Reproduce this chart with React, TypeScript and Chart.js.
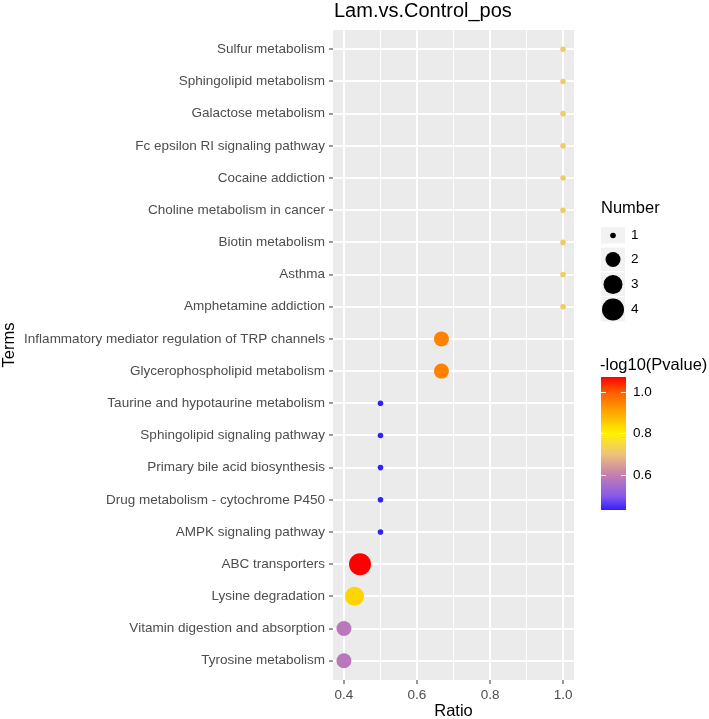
import React, { useEffect, useRef } from 'react';
import { Chart, registerables } from 'chart.js';
Chart.register(...registerables);

const terms = [
  'Sulfur metabolism',
  'Sphingolipid metabolism',
  'Galactose metabolism',
  'Fc epsilon RI signaling pathway',
  'Cocaine addiction',
  'Choline metabolism in cancer',
  'Biotin metabolism',
  'Asthma',
  'Amphetamine addiction',
  'Inflammatory mediator regulation of TRP channels',
  'Glycerophospholipid metabolism',
  'Taurine and hypotaurine metabolism',
  'Sphingolipid signaling pathway',
  'Primary bile acid biosynthesis',
  'Drug metabolism - cytochrome P450',
  'AMPK signaling pathway',
  'ABC transporters',
  'Lysine degradation',
  'Vitamin digestion and absorption',
  'Tyrosine metabolism',
];
const ratios = [1, 1, 1, 1, 1, 1, 1, 1, 1, 0.667, 0.667, 0.5, 0.5, 0.5, 0.5, 0.5, 0.444, 0.429, 0.4, 0.4];
const numbers = [1, 1, 1, 1, 1, 1, 1, 1, 1, 2, 2, 1, 1, 1, 1, 1, 4, 3, 2, 2];
const negLogP = [0.72, 0.72, 0.72, 0.72, 0.72, 0.72, 0.72, 0.72, 0.72, 0.95, 0.95, 0.431, 0.431, 0.431, 0.431, 0.431, 1.072, 0.84, 0.58, 0.58];

const xMajorTicks = [0.4, 0.6, 0.8, 1.0];
const xMinorTicks = [0.5, 0.7, 0.9];
const sizeLegendValues = [1, 2, 3, 4];
const colorLegendTicks = [0.6, 0.8, 1.0];

const titleText = 'Lam.vs.Control_pos';
const xTitle = 'Ratio';
const yTitle = 'Terms';
const sizeTitle = 'Number';
const colorTitle = '-log10(Pvalue)';

// styles
const radiusByNumber: Record<number, number> = { 1: 2.8, 2: 7.5, 3: 9.5, 4: 11 };
const gradValues = [0.431, 0.5, 0.6, 0.7, 0.8, 0.9, 1.0, 1.072];
const gradColors = ['#3320ff', '#8a5ae8', '#c47fb0', '#eec27a', '#fff200', '#ffa800', '#ff5a00', '#ff0000'];
const FONT = '"Liberation Sans", Arial, Helvetica, sans-serif';
const TICK_SIZE = 13.5;

function hexToRgb(h: string) {
  const n = parseInt(h.slice(1), 16);
  return [(n >> 16) & 255, (n >> 8) & 255, n & 255];
}
function colorFor(v: number) {
  if (v <= gradValues[0]) return gradColors[0];
  for (let i = 1; i < gradValues.length; i++) {
    if (v <= gradValues[i]) {
      const t = (v - gradValues[i - 1]) / (gradValues[i] - gradValues[i - 1]);
      const a = hexToRgb(gradColors[i - 1]);
      const b = hexToRgb(gradColors[i]);
      const c = a.map((x, k) => Math.round(x + (b[k] - x) * t));
      return `rgb(${c[0]},${c[1]},${c[2]})`;
    }
  }
  return gradColors[gradColors.length - 1];
}

const decorPlugin = {
  id: 'decor',
  beforeDraw(chart: any) {
    const { ctx, chartArea } = chart;
    ctx.save();
    ctx.fillStyle = '#ffffff';
    ctx.fillRect(0, 0, chart.width, chart.height);
    ctx.fillStyle = '#ebebeb';
    ctx.fillRect(chartArea.left, chartArea.top, chartArea.right - chartArea.left, chartArea.bottom - chartArea.top);
    ctx.restore();
  },
  afterDraw(chart: any) {
    const { ctx, chartArea } = chart;
    ctx.save();
    ctx.fillStyle = '#000000';
    // title
    ctx.font = `20px ${FONT}`;
    ctx.textAlign = 'left';
    ctx.textBaseline = 'alphabetic';
    ctx.fillText(titleText, chartArea.left + 1, 17);
    // x title
    ctx.font = `16.5px ${FONT}`;
    ctx.textAlign = 'center';
    ctx.fillText(xTitle, (chartArea.left + chartArea.right) / 2, 716);
    // y title
    ctx.save();
    ctx.translate(14, 345);
    ctx.rotate(-Math.PI / 2);
    ctx.textAlign = 'center';
    ctx.fillText(yTitle, 0, 0);
    ctx.restore();

    // size legend
    const lx = 601;
    ctx.textAlign = 'left';
    ctx.font = `16.5px ${FONT}`;
    ctx.fillText(sizeTitle, lx, 213);
    const centers = [235.5, 259.5, 284.5, 309.5];
    const halfH = [8.5, 12, 12, 12.5];
    sizeLegendValues.forEach((n, i) => {
      ctx.fillStyle = '#f2f2f2';
      ctx.fillRect(lx, centers[i] - halfH[i], 24, halfH[i] * 2 - 0.5);
      ctx.fillStyle = '#000000';
      ctx.beginPath();
      ctx.arc(lx + 12, centers[i], radiusByNumber[n], 0, Math.PI * 2);
      ctx.fill();
      ctx.font = `${TICK_SIZE}px ${FONT}`;
      ctx.textBaseline = 'middle';
      ctx.fillText(String(n), 631, centers[i]);
      ctx.textBaseline = 'alphabetic';
    });

    // color legend
    ctx.font = `16.5px ${FONT}`;
    ctx.fillStyle = '#000000';
    ctx.fillText(colorTitle, 600, 370);
    const barTop = 377, barBot = 510, bx = 601, bw = 25;
    const vmin = gradValues[0], vmax = gradValues[gradValues.length - 1];
    const yOf = (v: number) => barBot - ((v - vmin) / (vmax - vmin)) * (barBot - barTop);
    const grad = ctx.createLinearGradient(0, barBot, 0, barTop);
    gradValues.forEach((v, i) => grad.addColorStop((v - vmin) / (vmax - vmin), gradColors[i]));
    ctx.fillStyle = grad;
    ctx.fillRect(bx, barTop, bw, barBot - barTop);
    ctx.strokeStyle = 'rgba(255,255,255,0.9)';
    ctx.lineWidth = 1;
    ctx.font = `${TICK_SIZE}px ${FONT}`;
    colorLegendTicks.forEach((v) => {
      const y = Math.round(yOf(v)) + 0.5;
      ctx.beginPath();
      ctx.moveTo(bx, y);
      ctx.lineTo(bx + 5, y);
      ctx.moveTo(bx + bw - 5, y);
      ctx.lineTo(bx + bw, y);
      ctx.stroke();
      ctx.fillStyle = '#000000';
      ctx.textBaseline = 'middle';
      ctx.fillText(v.toFixed(1), 633, yOf(v));
    });
    ctx.restore();
  },
};

export default function App() {
  const ref = useRef<HTMLCanvasElement | null>(null);
  useEffect(() => {
    if (!ref.current) return;
    const data = terms.map((_, i) => ({ x: ratios[i], y: i }));
    const chart = new Chart(ref.current, {
      type: 'scatter',
      data: {
        datasets: [
          {
            data,
            pointRadius: numbers.map((n) => radiusByNumber[n]),
            pointHoverRadius: numbers.map((n) => radiusByNumber[n]),
            pointBackgroundColor: negLogP.map((v) => colorFor(v)),
            pointBorderWidth: 0,
            pointBorderColor: 'rgba(0,0,0,0)',
          },
        ],
      },
      options: {
        responsive: false,
        animation: false,
        devicePixelRatio: 1,
        layout: { padding: { left: 0, right: 135, top: 30, bottom: 0 } },
        plugins: { legend: { display: false }, tooltip: { enabled: false }, title: { display: false } },
        scales: {
          x: {
            type: 'linear',
            min: 0.37,
            max: 1.03,
            afterBuildTicks: (scale: any) => {
              scale.ticks = [...xMajorTicks, ...xMinorTicks].sort((a, b) => a - b).map((v) => ({ value: v }));
            },
            afterFit: (scale: any) => {
              scale.height = 39;
            },
            border: { display: false },
            grid: {
              color: '#ffffff',
              lineWidth: (c: any) => (c.tick && xMinorTicks.includes(c.tick.value) ? 1 : 2),
              tickColor: (c: any) => (c.tick && xMinorTicks.includes(c.tick.value) ? 'rgba(0,0,0,0)' : '#333333'),
              tickLength: 4,
              tickWidth: 1,
            },
            ticks: {
              autoSkip: false,
              maxRotation: 0,
              padding: 3,
              color: '#4d4d4d',
              font: { family: FONT, size: TICK_SIZE },
              callback: (v: any) => (xMajorTicks.includes(Number(v)) ? Number(v).toFixed(1) : ''),
            },
          },
          y: {
            type: 'linear',
            min: -0.6,
            max: terms.length - 0.4,
            reverse: true,
            afterBuildTicks: (scale: any) => {
              scale.ticks = terms.map((_, i) => ({ value: i }));
            },
            afterFit: (scale: any) => {
              scale.width = 333;
            },
            border: { display: false },
            grid: {
              color: '#ffffff',
              lineWidth: 2,
              tickColor: '#333333',
              tickLength: 4,
              tickWidth: 1,
            },
            ticks: {
              autoSkip: false,
              padding: 4,
              color: '#4d4d4d',
              font: { family: FONT, size: TICK_SIZE },
              callback: (v: any) => terms[Math.round(Number(v))] ?? '',
            },
          },
        },
      },
      plugins: [decorPlugin],
    } as any);
    return () => chart.destroy();
  }, []);
  return (
    <div style={{ position: 'fixed', left: 0, top: 0, width: 709, height: 719, background: '#fff' }}>
      <canvas ref={ref} width={709} height={719} />
    </div>
  );
}
